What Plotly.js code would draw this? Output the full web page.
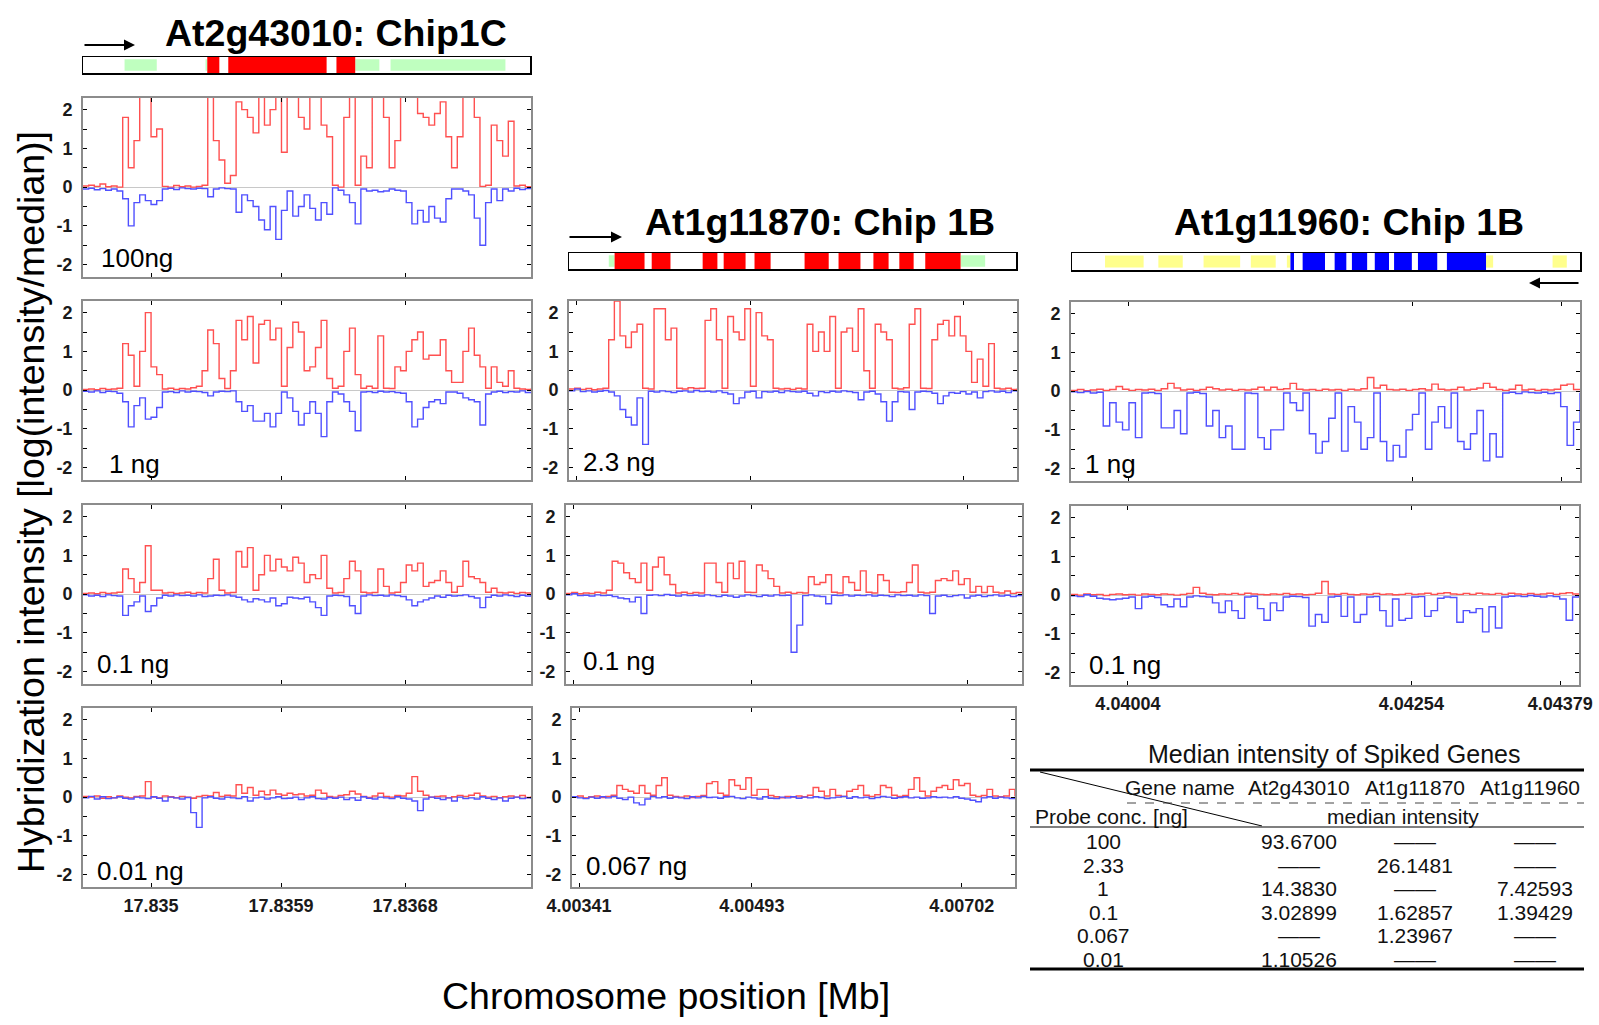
<!DOCTYPE html>
<html><head><meta charset="utf-8">
<script src="https://cdn.plot.ly/plotly-3.0.1.min.js"></script>
<style>html,body{margin:0;padding:0;background:#fff}#chart{width:1599px;height:1025px}</style>
</head><body><div id="chart"></div>
<script>
// ---------------- DATA ----------------
// log(intensity/median), equally spaced probes along each gene region
const red_At2g43010_100ng = [0.03,0.05,0.02,0.08,0.01,0.03,0.0,1.8,0.5,1.2,
 2.4,2.4,1.3,1.5,0.02,0.0,0.04,0.01,0.03,0.0,
 0.02,0.05,2.4,1.2,0.7,0.1,0.3,2.2,2.0,1.8,
 1.4,2.4,1.6,2.0,2.4,0.9,2.4,2.4,1.8,1.5,
 2.4,2.4,1.6,1.3,0.05,0.0,1.8,2.4,0.05,0.8,
 0.5,2.4,2.4,1.8,0.5,1.2,2.4,2.4,2.4,1.9,
 1.8,1.6,1.9,2.2,1.3,0.5,1.3,2.4,2.4,1.8,
 0.02,0.05,1.6,1.2,0.8,1.7,0.03,0.05,0.01,0.03];
const blue_At2g43010_100ng = [-0.05,-0.03,-0.07,-0.04,-0.08,-0.05,-0.1,-0.3,-1.0,-0.4,
 -0.2,-0.35,-0.45,-0.35,-0.05,-0.03,-0.06,-0.02,-0.04,-0.05,
 -0.03,-0.04,-0.25,-0.05,-0.02,-0.04,-0.05,-0.65,-0.2,-0.35,
 -0.5,-0.85,-1.1,-0.5,-1.35,-0.6,-0.1,-0.75,-0.5,-0.2,
 -0.55,-0.85,-0.4,-0.7,-0.02,-0.08,-0.2,-0.4,-0.95,-0.05,
 -0.1,-0.08,-0.12,-0.1,-0.05,-0.08,-0.1,-0.4,-0.95,-0.6,
 -0.9,-0.5,-0.8,-0.9,-0.3,-0.05,-0.05,-0.1,-0.2,-0.8,
 -1.5,-0.4,-0.05,-0.35,-0.05,-0.1,-0.03,-0.06,-0.04,-0.05];
const red_At2g43010_1ng = [0.02,0.03,0.01,0.04,0.02,0.03,0.05,1.2,0.9,0.1,
 1.0,2.0,0.6,0.4,0.03,0.05,0.02,0.04,0.03,0.06,
 0.1,0.5,1.55,1.2,0.3,0.04,0.5,1.8,1.3,1.9,
 0.7,1.7,1.8,1.3,1.6,0.1,1.1,1.75,1.5,0.5,
 0.6,1.1,1.8,0.3,0.05,0.1,1.0,1.6,0.4,0.05,
 0.1,0.05,1.4,0.05,0.04,0.6,0.5,1.0,1.3,1.5,
 0.8,0.9,0.9,1.3,0.5,0.2,0.2,1.0,1.6,0.9,
 0.6,0.05,0.6,0.2,0.1,0.5,0.05,0.03,0.02,0.04];
const blue_At2g43010_1ng = [-0.03,-0.05,-0.02,-0.06,-0.03,-0.04,-0.08,-0.3,-0.95,-0.4,
 -0.2,-0.75,-0.7,-0.45,-0.05,-0.04,-0.06,-0.02,-0.05,-0.03,
 -0.04,-0.06,-0.15,-0.05,-0.03,-0.04,-0.02,-0.3,-0.55,-0.4,
 -0.8,-0.8,-0.6,-0.95,-0.6,-0.05,-0.2,-0.55,-0.9,-0.6,
 -0.3,-0.6,-1.2,-0.3,-0.05,-0.1,-0.3,-0.55,-1.05,-0.05,
 -0.04,-0.06,-0.03,-0.05,-0.04,-0.06,-0.08,-0.3,-0.95,-0.75,
 -0.45,-0.3,-0.25,-0.35,-0.05,-0.05,-0.08,-0.2,-0.25,-0.3,
 -0.9,-0.1,-0.05,-0.03,-0.06,-0.04,-0.05,-0.02,-0.06,-0.04];
const red_At2g43010_01ng = [0.02,0.03,0.01,0.04,0.02,0.03,0.05,0.65,0.4,0.05,
 0.3,1.25,0.1,0.1,0.03,0.04,0.02,0.03,0.05,0.02,
 0.04,0.03,0.4,0.9,0.1,0.03,0.04,1.1,0.7,1.2,
 0.1,0.5,1.0,0.6,0.9,0.7,0.6,0.95,0.8,0.3,
 0.5,0.4,1.0,0.15,0.03,0.04,0.4,0.85,0.6,0.05,
 0.03,0.04,0.65,0.2,0.03,0.05,0.3,0.75,0.6,0.8,
 0.2,0.3,0.35,0.6,0.3,0.05,0.2,0.85,0.45,0.4,
 0.3,0.05,0.15,0.04,0.03,0.05,0.02,0.04,0.03,0.05];
const blue_At2g43010_01ng = [-0.02,-0.05,-0.03,-0.06,-0.02,-0.04,-0.05,-0.55,-0.3,-0.2,
 -0.05,-0.45,-0.3,-0.1,-0.03,-0.05,-0.02,-0.04,-0.03,-0.05,
 -0.02,-0.06,-0.05,-0.03,-0.04,-0.02,-0.05,-0.08,-0.15,-0.2,
 -0.12,-0.15,-0.2,-0.1,-0.3,-0.25,-0.08,-0.1,-0.12,-0.08,
 -0.2,-0.35,-0.55,-0.05,-0.03,-0.04,-0.06,-0.3,-0.5,-0.05,
 -0.02,-0.04,-0.03,-0.05,-0.02,-0.04,-0.06,-0.15,-0.3,-0.2,
 -0.15,-0.1,-0.05,-0.08,-0.03,-0.05,-0.04,-0.02,-0.06,-0.1,
 -0.35,-0.08,-0.03,-0.05,-0.02,-0.04,-0.06,-0.03,-0.05,-0.02];
const red_At2g43010_001ng = [0.02,0.0,0.03,-0.03,0.01,-0.02,0.03,0.0,-0.02,0.02,
 0.03,0.4,0.0,-0.02,0.03,0.01,-0.02,0.02,0.0,-0.03,
 0.02,0.04,0.03,0.12,0.02,0.05,0.03,0.32,0.1,0.25,
 0.05,0.15,0.06,0.18,0.08,0.05,0.1,0.06,0.08,0.03,
 0.05,0.18,0.1,0.02,0.0,0.04,0.06,0.15,0.08,0.02,
 -0.01,0.03,0.1,0.02,0.0,0.04,0.03,0.1,0.53,0.15,
 0.05,0.0,0.02,0.03,-0.02,0.01,0.04,0.02,0.05,0.1,
 0.03,0.0,0.02,-0.02,0.01,0.03,0.0,0.04,-0.01,0.02];
const blue_At2g43010_001ng = [-0.02,0.02,-0.05,0.01,-0.04,-0.02,0.01,-0.03,-0.05,0.0,
 -0.02,-0.04,0.01,-0.03,-0.1,0.0,-0.02,-0.05,-0.01,-0.4,
 -0.78,-0.02,0.01,-0.03,-0.05,0.0,-0.02,-0.04,0.01,-0.1,
 -0.02,0.0,-0.05,-0.02,0.01,-0.04,-0.03,0.0,-0.06,-0.02,
 0.01,-0.04,-0.05,-0.01,-0.03,0.0,-0.06,-0.02,-0.08,0.01,
 -0.03,-0.05,0.0,-0.02,-0.04,0.01,-0.03,-0.05,-0.1,-0.35,
 -0.05,0.0,-0.03,-0.06,-0.02,-0.1,0.0,-0.04,-0.02,-0.05,
 0.01,-0.03,-0.06,-0.02,-0.1,-0.03,0.0,-0.04,-0.02,-0.05];

const red_At1g11870_23ng = [0.03,0.05,0.02,0.04,0.01,0.03,0.05,1.3,2.3,1.4,
 1.1,1.5,1.7,0.05,0.03,2.1,2.1,1.3,1.6,0.05,
 0.03,0.06,0.04,0.05,1.8,2.1,1.3,0.05,1.9,1.5,
 1.3,2.1,0.1,2.0,1.4,1.3,0.05,0.03,0.04,0.02,
 0.05,0.03,1.7,1.0,1.5,1.0,1.9,0.05,1.5,1.6,
 1.0,2.1,0.5,0.05,1.7,1.5,1.3,0.05,0.03,0.06,
 1.7,2.1,0.05,0.04,1.3,1.7,1.8,1.4,1.9,1.4,
 1.0,0.2,0.8,0.1,1.2,0.05,0.03,0.05,0.02,0.04];
const blue_At1g11870_23ng = [-0.02,0.03,-0.04,-0.02,-0.05,-0.03,-0.01,-0.05,-0.15,-0.5,
 -0.7,-0.9,-0.2,-1.4,-0.03,-0.05,-0.02,-0.04,-0.06,-0.03,
 -0.02,-0.05,-0.01,-0.04,-0.03,-0.05,-0.02,-0.06,-0.1,-0.35,
 -0.2,-0.05,-0.03,-0.2,-0.04,-0.05,-0.03,-0.06,-0.02,-0.04,
 -0.05,-0.03,-0.08,-0.15,-0.04,-0.06,-0.03,-0.05,-0.02,-0.04,
 -0.06,-0.25,-0.05,-0.03,-0.1,-0.3,-0.8,-0.3,-0.04,-0.05,
 -0.5,-0.05,-0.03,-0.04,-0.08,-0.35,-0.15,-0.06,-0.08,-0.04,
 -0.1,-0.05,-0.2,-0.04,-0.02,-0.05,-0.03,-0.06,-0.02,-0.04];
const red_At1g11870_01ng = [0.02,0.04,0.01,0.03,0.02,0.05,0.03,0.1,0.85,0.8,
 0.55,0.4,0.3,0.8,0.1,0.7,0.95,0.5,0.25,0.03,
 0.05,0.02,0.04,0.03,0.8,0.8,0.3,0.05,0.8,0.4,
 0.85,0.05,0.04,0.75,0.6,0.4,0.2,0.03,0.05,0.02,
 0.04,0.03,0.45,0.25,0.3,0.5,0.05,0.03,0.45,0.3,
 0.1,0.6,0.05,0.03,0.5,0.35,0.05,0.04,0.06,0.3,
 0.75,0.05,0.03,0.05,0.35,0.4,0.35,0.6,0.25,0.4,
 0.05,0.2,0.04,0.2,0.05,0.03,0.08,0.02,0.04,0.02];
const blue_At1g11870_01ng = [-0.02,0.01,-0.04,-0.03,-0.05,-0.02,-0.04,-0.03,-0.06,-0.1,
 -0.12,-0.2,-0.08,-0.5,-0.03,-0.02,-0.04,-0.01,-0.03,-0.05,
 -0.02,-0.04,-0.03,-0.05,-0.02,-0.04,-0.06,-0.03,-0.05,-0.08,
 -0.05,-0.02,-0.04,-0.06,-0.03,-0.05,-0.02,-0.04,-0.03,-1.5,
 -0.8,-0.04,-0.02,-0.05,-0.06,-0.25,-0.03,-0.04,-0.02,-0.05,
 -0.03,-0.04,-0.02,-0.05,-0.03,-0.04,-0.06,-0.02,-0.04,-0.03,
 -0.05,-0.02,-0.04,-0.5,-0.05,-0.03,-0.06,-0.04,-0.02,-0.1,
 -0.05,-0.03,-0.06,-0.04,-0.02,-0.05,-0.03,-0.06,-0.04,-0.05];
const red_At1g11870_0067ng = [0.0,0.03,-0.02,0.01,0.03,-0.01,0.02,0.05,0.3,0.2,
 0.15,0.1,0.3,0.1,0.05,0.3,0.5,0.05,0.02,0.0,
 0.03,-0.01,0.02,0.04,0.35,0.4,0.1,0.05,0.45,0.3,
 0.2,0.5,0.05,0.2,0.2,0.04,0.01,-0.02,0.02,0.0,
 0.03,0.01,0.05,0.25,0.15,0.03,0.2,0.04,0.02,0.15,
 0.2,0.3,0.05,0.02,0.06,0.3,0.25,0.05,0.02,0.04,
 0.2,0.5,0.15,0.03,0.15,0.25,0.3,0.2,0.45,0.3,
 0.35,0.05,0.02,0.04,0.2,0.03,0.01,0.03,0.2,0.02];
const blue_At1g11870_0067ng = [0.01,-0.02,-0.04,0.0,-0.03,0.01,-0.02,0.02,-0.03,-0.06,
 0.0,-0.15,-0.2,-0.05,0.02,-0.02,0.01,-0.03,0.0,-0.02,
 -0.04,0.01,-0.02,0.02,-0.01,0.0,-0.03,0.01,0.02,-0.02,
 -0.04,0.0,-0.02,-0.05,0.01,-0.03,-0.04,0.0,-0.02,0.01,
 -0.03,0.0,-0.02,0.01,-0.01,-0.04,-0.02,0.0,0.02,-0.03,
 0.01,-0.02,0.0,-0.04,-0.01,0.02,0.0,-0.03,-0.01,0.01,
 -0.02,0.0,-0.03,-0.02,0.01,-0.01,0.0,-0.02,0.01,-0.03,
 -0.05,-0.08,-0.12,-0.02,0.01,-0.03,0.0,-0.02,-0.04,0.01];

const red_At1g11960_1ng = [0.02,0.04,0.01,0.03,0.05,0.02,0.04,0.12,0.05,0.02,
 0.04,0.03,0.05,0.02,0.06,0.2,0.08,0.03,0.05,0.02,
 0.04,0.1,0.06,0.03,0.05,0.02,0.04,0.03,0.05,0.1,
 0.03,0.1,0.04,0.06,0.2,0.05,0.03,0.04,0.02,0.05,
 0.03,0.04,0.02,0.05,0.03,0.06,0.35,0.08,0.15,0.04,
 0.03,0.05,0.02,0.04,0.06,0.03,0.18,0.05,0.03,0.04,
 0.1,0.03,0.05,0.08,0.2,0.1,0.04,0.02,0.05,0.15,
 0.03,0.05,0.02,0.04,0.03,0.05,0.15,0.18,0.04,0.03];
const blue_At1g11960_1ng = [-0.02,-0.04,-0.01,-0.05,-0.03,-0.9,-0.3,-0.8,-1.0,-0.3,
 -1.2,-0.05,-0.04,-0.06,-0.95,-0.95,-0.5,-1.1,-0.05,-0.03,
 -0.06,-0.9,-0.5,-1.2,-0.9,-1.5,-1.5,-0.05,-0.06,-1.2,
 -1.5,-1.0,-1.0,-0.05,-0.3,-0.5,-0.05,-1.1,-1.6,-1.3,
 -0.7,-0.05,-1.55,-0.4,-0.8,-1.5,-1.2,-0.05,-1.3,-1.8,
 -1.4,-1.7,-1.0,-0.6,-0.05,-1.5,-0.8,-0.4,-0.95,-0.05,
 -1.3,-1.5,-1.1,-0.5,-1.8,-1.1,-1.7,-0.05,-0.03,-0.06,
 -0.02,-0.04,-0.05,-0.03,-0.06,-0.04,-0.4,-1.4,-0.8,-0.04];
const red_At1g11960_01ng = [0.02,0.0,0.03,0.01,0.02,-0.01,0.02,0.03,0.01,0.02,
 0.0,0.03,0.02,0.01,0.03,0.02,0.0,0.02,0.04,0.2,
 0.05,0.02,0.01,0.03,0.02,0.04,0.02,0.05,0.03,0.02,
 0.01,0.03,0.02,0.04,0.02,0.03,0.01,0.02,0.05,0.35,
 0.03,0.02,0.04,0.02,0.01,0.03,0.02,0.04,0.02,0.03,
 0.01,0.02,0.04,0.02,0.03,0.05,0.02,0.04,0.06,0.03,
 0.02,0.04,0.02,0.05,0.03,0.02,0.04,0.02,0.05,0.03,
 0.02,0.04,0.02,0.03,0.05,0.02,0.04,0.06,0.03,0.05];
const blue_At1g11960_01ng = [-0.02,-0.04,0.01,-0.03,-0.08,-0.1,-0.12,-0.1,-0.08,-0.05,
 -0.35,-0.05,-0.03,-0.06,-0.25,-0.3,-0.1,-0.3,-0.05,-0.02,
 -0.04,-0.05,-0.2,-0.45,-0.15,-0.4,-0.6,-0.05,-0.03,-0.35,
 -0.65,-0.2,-0.4,-0.05,-0.03,-0.04,-0.06,-0.8,-0.5,-0.7,
 -0.05,-0.03,-0.55,-0.05,-0.7,-0.5,-0.05,-0.04,-0.4,-0.8,
 -0.1,-0.65,-0.6,-0.05,-0.04,-0.55,-0.4,-0.08,-0.05,-0.06,
 -0.7,-0.4,-0.45,-0.35,-0.95,-0.3,-0.85,-0.05,-0.03,-0.02,
 -0.04,-0.01,-0.03,-0.05,-0.02,-0.04,-0.1,-0.65,-0.05,-0.02];

// x tick labels (chromosome position, Mb) and where they sit (% of region)
const ticks_At2g43010 = ['17.835','17.8359','17.8368'];
const tickPos_At2g43010 = [15.2, 44.2, 71.9];
const ticks_At1g11870 = ['4.00341','4.00493','4.00702'];
const tickPos_At1g11870 = [1.6, 40.6, 88.0];
const ticks_At1g11960 = ['4.04004','4.04254','4.04379'];
const tickPos_At1g11960 = [11.2, 67.0, 96.3];

// gene models (% of region): coding exons and UTRs
const exonStart_At2g43010 = [27.8, 32.5, 56.7];
const exonEnd_At2g43010   = [30.5, 54.5, 60.9];
const utrStart_At2g43010  = [9.3, 27.4, 60.9, 68.8];
const utrEnd_At2g43010    = [16.5, 27.8, 66.3, 94.5];
const exonStart_At1g11870 = [10.2, 18.5, 29.9, 34.6, 41.5, 52.7, 60.3, 68.1, 73.9, 79.7];
const exonEnd_At1g11870   = [16.9, 22.7, 33.2, 39.5, 45.1, 58.1, 65.2, 71.5, 77.1, 87.6];
const utrStart_At1g11870  = [8.9, 87.6];
const utrEnd_At1g11870    = [10.2, 93.1];
const exonStart_At1g11960 = [43.0, 45.4, 51.7, 55.1, 59.6, 63.4, 68.1, 73.8];
const exonEnd_At1g11960   = [43.7, 49.8, 54.0, 58.1, 62.4, 66.9, 71.9, 81.5];
const utrStart_At1g11960  = [6.5, 17.0, 25.9, 35.2, 42.3, 81.5, 94.6];
const utrEnd_At1g11960    = [14.1, 21.8, 33.1, 40.1, 43.0, 82.9, 97.4];

// table
const tableTitle = 'Median intensity of Spiked Genes';
const geneNames = ['At2g43010','At1g11870','At1g11960'];
const probeConc = ['100','2.33','1','0.1','0.067','0.01'];
const median_At2g43010 = [93.67, null, 14.383, 3.02899, null, 1.10526];
const median_At1g11870 = [null, 26.1481, null, 1.62857, 1.23967, null];
const median_At1g11960 = [null, null, 7.42593, 1.39429, null, null];

// ---------------- LAYOUT ----------------
const W = 1599, H = 1025;
const FONT = 'Arial, "Liberation Sans", Helvetica, sans-serif';
const RED = 'rgb(255,80,80)', BLUE = 'rgb(80,80,255)';
const px = v => v / W, py = v => 1 - v / H;

const panels = [
  {red: red_At2g43010_100ng, blue: blue_At2g43010_100ng, box:[83,531,98,277], label:'100ng', lab:[99,258], tv:tickPos_At2g43010, tt:ticks_At2g43010, showX:false},
  {red: red_At2g43010_1ng, blue: blue_At2g43010_1ng, box:[83,531,301,480], label:'1 ng', lab:[107,464], tv:tickPos_At2g43010, tt:ticks_At2g43010, showX:false},
  {red: red_At2g43010_01ng, blue: blue_At2g43010_01ng, box:[83,531,505,684], label:'0.1 ng', lab:[95,664], tv:tickPos_At2g43010, tt:ticks_At2g43010, showX:false},
  {red: red_At2g43010_001ng, blue: blue_At2g43010_001ng, box:[83,531,708,887], label:'0.01 ng', lab:[95,871], tv:tickPos_At2g43010, tt:ticks_At2g43010, showX:true},
  {red: red_At1g11870_23ng, blue: blue_At1g11870_23ng, box:[569,1017,301,480], label:'2.3 ng', lab:[581,462], tv:tickPos_At1g11870, tt:ticks_At1g11870, showX:false},
  {red: red_At1g11870_01ng, blue: blue_At1g11870_01ng, box:[566,1022,505,684], label:'0.1 ng', lab:[581,661], tv:tickPos_At1g11870, tt:ticks_At1g11870, showX:false},
  {red: red_At1g11870_0067ng, blue: blue_At1g11870_0067ng, box:[572,1015,708,887], label:'0.067 ng', lab:[584,866], tv:tickPos_At1g11870, tt:ticks_At1g11870, showX:true},
  {red: red_At1g11960_1ng, blue: blue_At1g11960_1ng, box:[1071,1580,302,481], label:'1 ng', lab:[1083,464], tv:tickPos_At1g11960, tt:ticks_At1g11960, showX:false},
  {red: red_At1g11960_01ng, blue: blue_At1g11960_01ng, box:[1071,1579,506,685], label:'0.1 ng', lab:[1087,665], tv:tickPos_At1g11960, tt:ticks_At1g11960, showX:true}
];

const data = [];
const layout = {
  width: W, height: H, margin: {l:0, r:0, t:0, b:0},
  paper_bgcolor: '#fff', plot_bgcolor: '#fff', showlegend: false,
  font: {family: FONT, color: '#000'},
  annotations: [], shapes: []
};
const tickFont = {family: FONT, size: 18, color: '#1a1a1a', weight: 700};

panels.forEach((p, i) => {
  const k = i + 1, sfx = k === 1 ? '' : String(k);
  const n = p.red.length;
  const x = p.red.map((_, j) => j * 100 / (n - 1));
  data.push({type:'scatter', mode:'lines', x: x, y: p.red, xaxis:'x'+sfx, yaxis:'y'+sfx,
    line:{color: RED, width:1.4, shape:'hv'}, hoverinfo:'skip'});
  data.push({type:'scatter', mode:'lines', x: x, y: p.blue, xaxis:'x'+sfx, yaxis:'y'+sfx,
    line:{color: BLUE, width:1.4, shape:'hv'}, hoverinfo:'skip'});
  const [x0,x1,y0,y1] = p.box;
  layout['xaxis'+sfx] = {domain:[px(x0), px(x1)], range:[0,100], anchor:'y'+sfx,
    showgrid:false, zeroline:false, showline:true, linecolor:'#8c8c8c', linewidth:2, mirror:'ticks',
    ticks:'inside', ticklen:4, tickcolor:'#000', tickwidth:1,
    tickvals:p.tv, ticktext:p.tt, showticklabels:p.showX, tickfont:tickFont, ticklabelstandoff:1, fixedrange:true};
  layout['yaxis'+sfx] = {domain:[py(y1), py(y0)], range:[-2.32,2.3], anchor:'x'+sfx,
    showgrid:false, zeroline:true, zerolinecolor:'#c8c8c8', zerolinewidth:1,
    showline:true, linecolor:'#8c8c8c', linewidth:2, mirror:'ticks',
    ticks:'inside', ticklen:4, tickcolor:'#000', tickwidth:1,
    tickvals:[-2,-1.5,-1,-0.5,0,0.5,1,1.5,2], ticktext:['-2','','-1','','0','','1','','2'],
    tickfont:tickFont, ticklabelstandoff:5, fixedrange:true};
  layout.annotations.push({xref:'paper', yref:'paper', x:px(p.lab[0]), y:py(p.lab[1]),
    xanchor:'left', yanchor:'middle', text:p.label, showarrow:false,
    font:{family:FONT, size:26, color:'#000'}});
});

// gene model strips
const genes = [
  {box:[83,530,57,73], es:exonStart_At2g43010, ee:exonEnd_At2g43010, us:utrStart_At2g43010, ue:utrEnd_At2g43010, ec:'#ff0000', uc:'#bfffbf'},
  {box:[569,1016,253,269], es:exonStart_At1g11870, ee:exonEnd_At1g11870, us:utrStart_At1g11870, ue:utrEnd_At1g11870, ec:'#ff0000', uc:'#bfffbf'},
  {box:[1072,1580,253,270], es:exonStart_At1g11960, ee:exonEnd_At1g11960, us:utrStart_At1g11960, ue:utrEnd_At1g11960, ec:'#0000ff', uc:'#ffff8c'}
];
genes.forEach((g, i) => {
  const k = 10 + i, sfx = String(k);
  const [x0,x1,y0,y1] = g.box;
  layout['xaxis'+sfx] = {domain:[px(x0), px(x1)], range:[0,100], anchor:'y'+sfx, showgrid:false, zeroline:false,
    showline:true, linecolor:'#000', linewidth:1.5, mirror:true, ticks:'', showticklabels:false, fixedrange:true};
  layout['yaxis'+sfx] = {domain:[py(y1), py(y0)], range:[0,1], anchor:'x'+sfx, showgrid:false, zeroline:false,
    showline:true, linecolor:'#000', linewidth:1.5, mirror:true, ticks:'', showticklabels:false, fixedrange:true};
  g.us.forEach((s, j) => layout.shapes.push({type:'rect', xref:'x'+sfx, yref:'y'+sfx, x0:s, x1:g.ue[j], y0:0.14, y1:0.86,
    fillcolor:g.uc, line:{width:0}, layer:'above'}));
  g.es.forEach((s, j) => layout.shapes.push({type:'rect', xref:'x'+sfx, yref:'y'+sfx, x0:s, x1:g.ee[j], y0:0, y1:1,
    fillcolor:g.ec, line:{width:0}, layer:'above'}));
  data.push({type:'scatter', mode:'markers', x:[50], y:[0.5], xaxis:'x'+sfx, yaxis:'y'+sfx,
    marker:{opacity:0}, hoverinfo:'skip'});
});

// gene titles
const titles = [
  {t:'At2g43010: Chip1C', x:336, y:33},
  {t:'At1g11870: Chip 1B', x:820, y:222},
  {t:'At1g11960: Chip 1B', x:1349, y:222}
];
titles.forEach(t => layout.annotations.push({xref:'paper', yref:'paper', x:px(t.x), y:py(t.y),
  xanchor:'center', yanchor:'middle', text:t.t, showarrow:false,
  font:{family:FONT, size:37.5, color:'#000', weight:700}}));

// strand arrows
const arrows = [ {hx:135, hy:45, ax:-52}, {hx:622, hy:237, ax:-54}, {hx:1529, hy:283, ax:51} ];
arrows.forEach(a => layout.annotations.push({xref:'paper', yref:'paper', x:px(a.hx), y:py(a.hy),
  ax:a.ax, ay:0, text:'', showarrow:true, arrowhead:2, arrowsize:1.1, arrowwidth:2, arrowcolor:'#000', standoff:0, startstandoff:0}));

// axis titles
layout.annotations.push({xref:'paper', yref:'paper', x:px(31), y:py(502), textangle:-90,
  text:'Hybridization intensity [log(intensity/median)]', showarrow:false, xanchor:'center', yanchor:'middle',
  font:{family:FONT, size:37.5, color:'#000'}});
layout.annotations.push({xref:'paper', yref:'paper', x:px(666), y:py(996),
  text:'Chromosome position [Mb]', showarrow:false, xanchor:'center', yanchor:'middle',
  font:{family:FONT, size:37.5, color:'#000'}});

// table
const tf = {family:FONT, size:21, color:'#111'};
const ann = (x, y, text, xa, size) => layout.annotations.push({xref:'paper', yref:'paper', x:px(x), y:py(y),
  text:text, showarrow:false, xanchor:xa || 'center', yanchor:'middle', font:Object.assign({}, tf, size ? {size:size} : {})});
ann(1334, 754, tableTitle, 'center', 25);
ann(1180, 787, 'Gene name');
const colX = [1299, 1415, 1530];
geneNames.forEach((g, j) => ann(colX[j], 787, g));
ann(1033, 816, 'Probe conc. [ng]', 'left');
ann(1403, 816, 'median intensity');
const rowY = [841, 865, 888, 912, 935, 959];
const cols = [median_At2g43010, median_At1g11870, median_At1g11960];
probeConc.forEach((c, r) => {
  ann(1103, rowY[r], c);
  cols.forEach((col, j) => ann(colX[j] + (j === 2 ? 5 : 0), rowY[r], col[r] === null ? '——' : col[r].toPrecision(6)));
});
const line = (x0, y0, x1, y1, w, color, dash) => layout.shapes.push({type:'line', xref:'paper', yref:'paper',
  x0:px(x0), y0:py(y0), x1:px(x1), y1:py(y1), line:{color:color || '#000', width:w, dash:dash || 'solid'}});
line(1030, 770, 1584, 770, 3);
line(1040, 772, 1262, 826, 1);
line(1127, 803, 1584, 803, 1, '#444', 'dash');
line(1030, 827, 1584, 827, 1.5, '#555');
line(1030, 969, 1584, 969, 3);

Plotly.newPlot('chart', data, layout, {displayModeBar:false, staticPlot:true});
</script></body></html>
